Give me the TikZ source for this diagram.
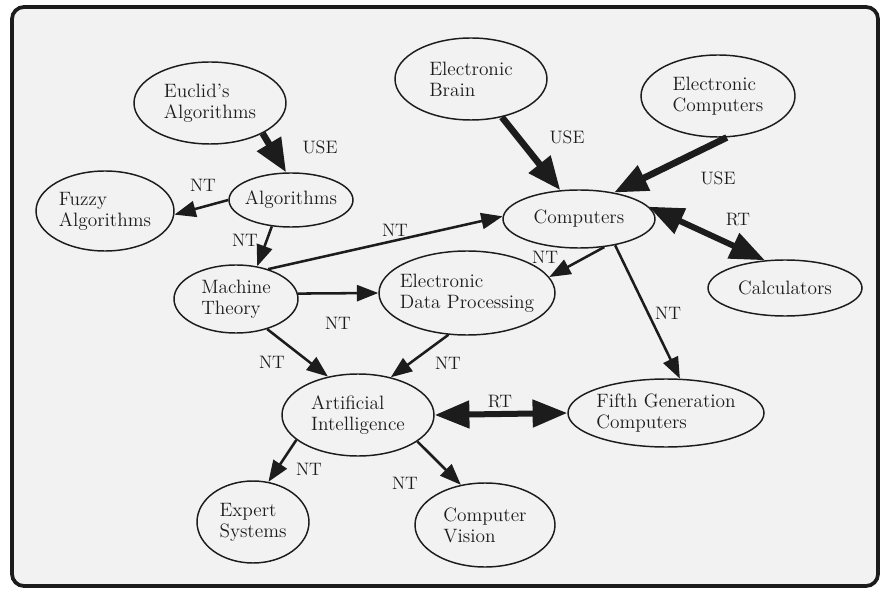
\documentclass[tikz,border=0pt]{standalone}
\usepackage{fontspec}
\usetikzlibrary{shapes.geometric,arrows.meta}
\definecolor{paper}{RGB}{242,242,242}
\definecolor{ink}{RGB}{28,28,28}
\newcommand{\inkfont}[2]{\fontsize{#1}{#2}\selectfont\addfontfeature{FakeBold=0.6}}
\begin{document}
\begin{tikzpicture}[x=0.75pt,y=-0.75pt,
  % concept ellipse: #1 = horizontal radius, #2 = vertical radius (px)
  topic/.style 2 args={ellipse, draw=ink, line width=1.1pt,
    minimum width=#1*1.5pt, minimum height=#2*1.5pt, inner sep=-25pt,
    align=left, text=ink, font=\inkfont{14.5}{15.8}},
  nt/.style={draw=ink, line width=1.9pt, -{Triangle[length=16pt,width=12pt]}},
  use/.style={draw=ink, line width=5pt, -{Triangle[length=25pt,width=20pt]}},
  rt/.style={draw=ink, line width=4.5pt,
    {Triangle[length=26pt,width=20pt]}-{Triangle[length=26pt,width=20pt]}},
  lbl/.style={inner sep=0pt, text=ink, font=\inkfont{13.5}{14}}]
\useasboundingbox (0,0) rectangle (881,598);
\fill[white] (0,0) rectangle (881,598);
% panel
\draw[ink, line width=2.8pt, fill=paper, rounded corners=9pt] (12,7) rectangle (878,586);

% concepts
\node[topic={76}{41}] (euc) at (210,103) {Euclid's\\Algorithms};
\node[topic={69}{40}] (fuz) at (105,211) {Fuzzy\\Algorithms};
\node[topic={62}{27}] (alg) at (291,200) {Algorithms};
\node[topic={76}{41}] (brain) at (471,79) {Electronic\\Brain};
\node[topic={77}{41}] (ecomp) at (718,96) {Electronic\\Computers};
\node[topic={76}{29}] (comp) at (579,219) {Computers};
\node[topic={77}{28}] (calc) at (785,288) {Calculators};
\node[topic={62}{34}] (mach) at (236,299) {Machine\\Theory};
\node[topic={88}{42}] (edp) at (467,293) {Electronic\\Data Processing};
\node[topic={76}{41}] (ai) at (358,415) {Artificial\\Intelligence};
\node[topic={98}{34}] (fifth) at (666,413) {Fifth Generation\\Computers};
\node[topic={56}{41}] (exp) at (253,522) {Expert\\Systems};
\node[topic={70}{42}] (vis) at (485,525) {Computer\\Vision};

% relations
\draw[use] (euc.-30) -- (alg.100);
\draw[nt] (alg.180) -- (fuz.-3);
\draw[nt] (alg.234) -- (mach.57);
\draw[nt] (mach.43) -- (comp.178);
\draw[nt] (mach.5) -- (edp.180);
\draw[nt] (mach.-44) -- (ai.128);
\draw[nt] (edp.246) -- (ai.49);
\draw[nt] (comp.-48) -- (edp.11);
\draw[nt] (comp.-36) -- (fifth.68);
\draw[use] (brain.-51) -- (comp.123);
\draw[use] (ecomp.-78) -- (comp.37);
\draw[rt] (comp.10) -- (calc.126);
\draw[rt] (ai.east) -- (fifth.west);
\draw[nt] (ai.202) -- (exp.69);
\draw[nt] (ai.-24) -- (vis.121);

% relation labels
\node[lbl] (l1) at (320,147) {USE};
\node[lbl] (l2) at (203,185) {NT};
\node[lbl] (l3) at (245,240) {NT};
\node[lbl] (l4) at (395,230) {NT};
\node[lbl] (l5) at (338,323) {NT};
\node[lbl] (l6) at (272,362) {NT};
\node[lbl] (l7) at (448,363) {NT};
\node[lbl] (l8) at (545,257) {NT};
\node[lbl] (l9) at (668,313) {NT};
\node[lbl] (l10) at (567,137) {USE};
\node[lbl] (l11) at (718,178) {USE};
\node[lbl] (l12) at (738,220) {RT};
\node[lbl] (l13) at (500,402) {RT};
\node[lbl] (l14) at (309,469) {NT};
\node[lbl] (l15) at (405,483) {NT};
\end{tikzpicture}
\end{document}
